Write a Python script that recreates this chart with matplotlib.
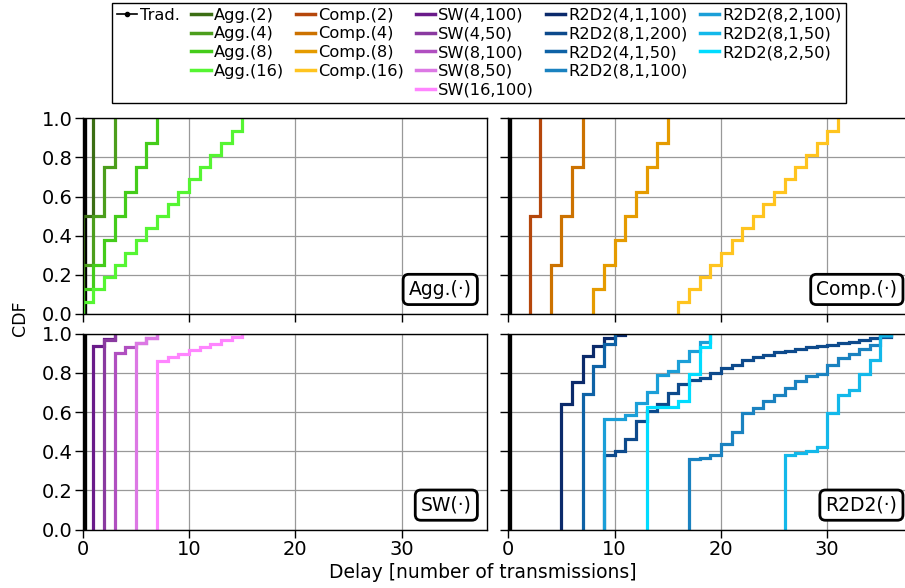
import matplotlib
matplotlib.use('Agg')
import matplotlib.pyplot as plt
from matplotlib.lines import Line2D

plt.rcParams['font.family'] = ['DejaVu Sans']

# ---- data ----
# delay values (number of transmissions) and CDF value reached at each delay
trad_delay = [0, 0]
trad_cdf = [0.0, 1.0]

agg_names = ['Agg.(2)', 'Agg.(4)', 'Agg.(8)', 'Agg.(16)']
agg_colors = ['#3b6e14', '#4c9e1c', '#44cc1a', '#55f532']
agg_delay = [[0, 1],
             [0, 1, 2, 3],
             [0, 1, 2, 3, 4, 5, 6, 7],
             [0, 1, 2, 3, 4, 5, 6, 7, 8, 9, 10, 11, 12, 13, 14, 15]]
agg_cdf = [[0.5, 1.0],
           [0.25, 0.5, 0.75, 1.0],
           [0.125, 0.25, 0.375, 0.5, 0.625, 0.75, 0.875, 1.0],
           [0.0625, 0.125, 0.1875, 0.25, 0.3125, 0.375, 0.4375, 0.5,
            0.5625, 0.625, 0.6875, 0.75, 0.8125, 0.875, 0.9375, 1.0]]

comp_names = ['Comp.(2)', 'Comp.(4)', 'Comp.(8)', 'Comp.(16)']
comp_colors = ['#b5470b', '#cc7200', '#e59b00', '#ffc41f']
comp_delay = [[2, 3],
              [4, 5, 6, 7],
              [8, 9, 10, 11, 12, 13, 14, 15],
              [16, 17, 18, 19, 20, 21, 22, 23, 24, 25, 26, 27, 28, 29, 30, 31]]
comp_cdf = [[0.5, 1.0],
            [0.25, 0.5, 0.75, 1.0],
            [0.125, 0.25, 0.375, 0.5, 0.625, 0.75, 0.875, 1.0],
            [0.0625, 0.125, 0.1875, 0.25, 0.3125, 0.375, 0.4375, 0.5,
             0.5625, 0.625, 0.6875, 0.75, 0.8125, 0.875, 0.9375, 1.0]]

sw_names = ['SW(4,100)', 'SW(4,50)', 'SW(8,100)', 'SW(8,50)', 'SW(16,100)']
sw_colors = ['#6a1b8a', '#8a3aa0', '#b04fc0', '#dc78e4', '#ff85ff']
sw_delay = [[1, 2, 3],
            [2, 3],
            [3, 4, 5, 6, 7],
            [5, 6, 7],
            [7, 8, 9, 10, 11, 12, 13, 14, 15]]
sw_cdf = [[0.94, 0.975, 1.0],
          [0.97, 1.0],
          [0.90, 0.93, 0.955, 0.98, 1.0],
          [0.955, 0.98, 1.0],
          [0.86, 0.88, 0.897, 0.916, 0.933, 0.95, 0.967, 0.985, 1.0]]

r2d2_names = ['R2D2(4,1,100)', 'R2D2(8,1,200)', 'R2D2(4,1,50)', 'R2D2(8,1,100)',
              'R2D2(8,2,100)', 'R2D2(8,1,50)', 'R2D2(8,2,50)']
r2d2_colors = ['#0b2a6b', '#0d4a8c', '#0e62a6', '#1a82c0',
               '#1b9fd8', '#13b8ea', '#00dcff']
r2d2_delay = [[5, 6, 7, 8, 9, 10, 11],
              [9, 10, 11, 12, 13, 14, 15, 16, 17, 18, 19, 20, 21, 22, 23, 24,
               25, 26, 27, 28, 29, 30, 31, 32, 33, 34, 35, 36],
              [7, 8, 9, 10],
              [17, 18, 19, 20, 21, 22, 23, 24, 25, 26, 27, 28, 29, 30, 31, 32,
               33, 34, 35, 36],
              [9, 11, 12, 13, 14, 15, 16, 17, 18, 19],
              [26, 27, 28, 29, 30, 31, 32, 33, 34, 35, 36],
              [13, 16, 17, 18, 19]]
r2d2_cdf = [[0.64, 0.754, 0.889, 0.937, 0.976, 0.995, 1.0],
            [0.38, 0.40, 0.46, 0.555, 0.605, 0.64, 0.70, 0.745, 0.765, 0.775,
             0.80, 0.825, 0.84, 0.865, 0.88, 0.893, 0.905, 0.913, 0.923, 0.93,
             0.938, 0.945, 0.952, 0.96, 0.968, 0.976, 0.985, 1.0],
            [0.69, 0.834, 0.95, 1.0],
            [0.36, 0.366, 0.38, 0.436, 0.498, 0.595, 0.62, 0.655, 0.685, 0.722,
             0.757, 0.783, 0.795, 0.843, 0.877, 0.895, 0.92, 0.942, 0.99, 1.0],
            [0.565, 0.585, 0.645, 0.705, 0.79, 0.81, 0.863, 0.911, 0.958, 1.0],
            [0.38, 0.39, 0.40, 0.42, 0.595, 0.689, 0.715, 0.795, 0.866, 0.995, 1.0],
            [0.625, 0.655, 0.795, 0.93, 1.0]]

panel_tags = ['Agg.(·)', 'Comp.(·)', 'SW(·)', 'R2D2(·)']

# ---- figure ----
W, H = 905, 588
fig = plt.figure(figsize=(W / 100, H / 100), dpi=100)


def add_ax(l, t, r, b):
    return fig.add_axes([l / W, 1 - b / H, (r - l) / W, (b - t) / H])


ax_agg = add_ax(82.7, 118.3, 486.7, 313.8)
ax_comp = add_ax(508.3, 118.3, 912.3, 313.8)
ax_sw = add_ax(82.7, 333.8, 486.7, 529.5)
ax_r2d2 = add_ax(508.3, 333.8, 912.3, 529.5)
axes = [ax_agg, ax_comp, ax_sw, ax_r2d2]


def draw_cdf(ax, xs, ys, color):
    ax.step([xs[0]] + xs, [0.0] + ys, where='post', color=color, lw=2.3,
            solid_joinstyle='miter')


groups = [(agg_delay, agg_cdf, agg_colors),
          (comp_delay, comp_cdf, comp_colors),
          (sw_delay, sw_cdf, sw_colors),
          (r2d2_delay, r2d2_cdf, r2d2_colors)]

for ax, (dl, cl, col), tag in zip(axes, groups, panel_tags):
    ax.plot(trad_delay, trad_cdf, color='black', lw=6)
    for xs, ys, c in zip(dl, cl, col):
        draw_cdf(ax, xs, ys, c)
    ax.set_xlim(0, 38)
    ax.set_ylim(0, 1)
    ax.set_xticks([0, 10, 20, 30])
    ax.set_yticks([0, 0.2, 0.4, 0.6, 0.8, 1.0])
    ax.grid(True, color='#999999', lw=0.9)
    ax.set_axisbelow(True)
    for s in ax.spines.values():
        s.set_linewidth(1.0)
    ax.tick_params(direction='out', length=6, width=1.0, pad=1.5, labelsize=14)
    ax.text(0.963, 0.076, tag, transform=ax.transAxes, ha='right', va='bottom',
            fontsize=13.5, zorder=5,
            bbox=dict(boxstyle='round,pad=0.3', fc='white', ec='black', lw=2))

for ax in [ax_agg, ax_comp]:
    ax.tick_params(labelbottom=False)
for ax in [ax_comp, ax_r2d2]:
    ax.tick_params(labelleft=False)
for ax in [ax_agg, ax_sw]:
    ax.set_yticklabels(['0.0', '0.2', '0.4', '0.6', '0.8', '1.0'])

fig.text(19.5 / W, 1 - 318 / H, 'CDF', rotation=90, ha='center', va='center',
         fontsize=12.5)
fig.text(482.5 / W, 1 - 572 / H, 'Delay [number of transmissions]',
         ha='center', va='center', fontsize=13.5)

# ---- legend (blank entries pad the columns) ----
blank = Line2D([], [], alpha=0)
handles, labels = [], []
handles.append(Line2D([], [], color='black', lw=1.2, marker='.', markersize=6))
labels.append('Trad.')
handles += [blank] * 4
labels += [''] * 4
for names, cols, pad in [(agg_names, agg_colors, 1), (comp_names, comp_colors, 1),
                         (sw_names, sw_colors, 0)]:
    for n, c in zip(names, cols):
        handles.append(Line2D([], [], color=c, lw=2.5))
        labels.append(n)
    handles += [blank] * pad
    labels += [''] * pad
for n, c in zip(r2d2_names[:4], r2d2_colors[:4]):
    handles.append(Line2D([], [], color=c, lw=2.5))
    labels.append(n)
handles.append(blank)
labels.append('')
for n, c in zip(r2d2_names[4:], r2d2_colors[4:]):
    handles.append(Line2D([], [], color=c, lw=2.5))
    labels.append(n)
handles += [blank] * 2
labels += [''] * 2

leg = fig.legend(handles, labels, ncol=6, loc='upper left',
                 bbox_to_anchor=(112 / W, 1 - 2.5 / H), borderaxespad=0,
                 frameon=True, fancybox=False, edgecolor='black', framealpha=1,
                 borderpad=0.32, labelspacing=0.23, handlelength=1.2,
                 handletextpad=0.18, columnspacing=0.73, fontsize=11.7)
leg.get_frame().set_linewidth(1.0)

fig.savefig('out.png', dpi=100)
